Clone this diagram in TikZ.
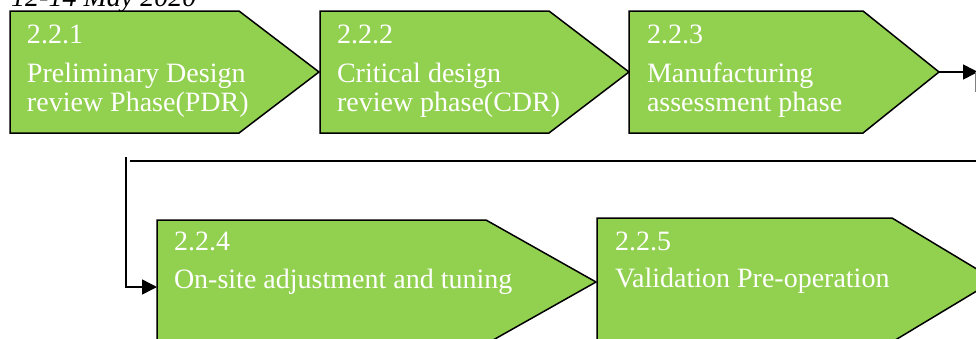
\documentclass[tikz,border=0pt]{standalone}
\usepackage{fontspec}
\setmainfont{Liberation Serif}
\usetikzlibrary{arrows.meta}
\definecolor{phasegreen}{HTML}{92D050}
\tikzset{
  phase/.style={draw=black, fill=phasegreen, line width=1.5pt, line join=miter},
  lbl/.style={anchor=base west, inner sep=0pt, outer sep=0pt, text=white, font=\fontsize{28}{30}\selectfont},
  datetxt/.style={anchor=base west, inner sep=0pt, text=black, font=\fontsize{28}{30}\selectfont\itshape},
  conn/.style={draw=black, line width=1.5pt},
  tip/.style={-{Triangle[length=15pt,width=15pt]}}
}
\begin{document}
\begin{tikzpicture}[x=1pt,y=-1pt]
\useasboundingbox (0,0) rectangle (976,338);
\clip (0,0) rectangle (976,338);
% date header (cut off)
\node[datetxt] (date) at (11,6) {12-14 May 2020};
% phase shapes
\draw[phase] (10,11) -- (239,11) -- (319,72) -- (239,133) -- (10,133) -- cycle;
\draw[phase] (320,11) -- (549,11) -- (629,72) -- (549,133) -- (320,133) -- cycle;
\draw[phase] (629,11) -- (863,11) -- (939,72) -- (863,133) -- (629,133) -- cycle;
\draw[phase] (157,220) -- (486,220) -- (596,282) -- (486,344) -- (157,344) -- cycle;
\draw[phase] (597,218) -- (892,218) -- (995,280) -- (892,342) -- (597,342) -- cycle;
\coordinate (s3tip) at (939,72);
\coordinate (s4in) at (157,287);
% labels
\node[lbl] (n1) at (27,43) {2.2.1};
\node[lbl] (a1) at (27,82) {Preliminary Design};
\node[lbl] (b1) at (27,111) {review Phase(PDR)};
\node[lbl] (n2) at (337,43) {2.2.2};
\node[lbl] (a2) at (337,82) {Critical design};
\node[lbl] (b2) at (337,111) {review phase(CDR)};
\node[lbl] (n3) at (647,43) {2.2.3};
\node[lbl] (a3) at (647,82) {Manufacturing};
\node[lbl] (b3) at (647,111) {assessment phase};
\node[lbl] (n4) at (174,250) {2.2.4};
\node[lbl] (a4) at (174,288) {On-site adjustment and tuning};
\node[lbl] (n5) at (615,250) {2.2.5};
\node[lbl] (a5) at (615,287) {Validation Pre-operation};
% connectors
\coordinate (rend) at (978,72);
\draw[conn,tip] (s3tip) -- (rend);
\draw[draw=gray, line width=0.8pt] (975.5,72) -- (975.5,92);
\coordinate (hr) at (976,161);
\coordinate (hl) at (130,161);
\draw[conn] (hr) -- (hl);
\coordinate (vt) at (126,157);
\draw[conn,tip] (vt) -- (126,287) -- (s4in);
\end{tikzpicture}
\end{document}
